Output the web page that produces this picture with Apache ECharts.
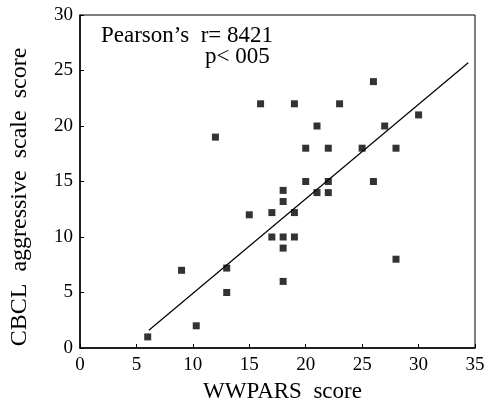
<!DOCTYPE html>
<html>
<head>
<meta charset="utf-8">
<script src="https://cdn.jsdelivr.net/npm/echarts@6/dist/echarts.min.js"></script>
<style>
html, body { margin: 0; padding: 0; background: #fff; }
#chart { width: 488px; height: 409px; }
</style>
</head>
<body>
<div id="chart"></div>
<script>
// 散点数据 (WWPARS score, CBCL aggressive scale score)
const wwpars = [6, 9, 10.3, 13, 13, 12, 15, 16, 17, 17, 18, 18, 18, 18, 18, 19, 19, 19, 20, 20, 21, 21, 22, 22, 22, 23, 25, 26, 26, 27, 28, 28, 30];
const cbcl = [1, 7, 2, 7.2, 5, 19, 12, 22, 12.2, 10, 14.2, 13.2, 10, 9, 6, 12.2, 10, 22, 18, 15, 20, 14, 18, 15, 14, 22, 18, 24, 15, 20, 18, 8, 21];
// 回归线两端
const fitX = [6.1, 34.4];
const fitY = [1.6, 25.7];
const xTicks = [0, 5, 10, 15, 20, 25, 30, 35];
const yTicks = [0, 5, 10, 15, 20, 25, 30];
const statLines = ['Pearson\u2019s  r= 8421', 'p< 005'];
const xTitle = 'WWPARS  score';
const yTitle = 'CBCL  aggressive  scale  score';

const font = 'Liberation Serif, DejaVu Serif, serif';
const points = wwpars.map((x, i) => [x, cbcl[i]]);
const fitLine = fitX.map((x, i) => [x, fitY[i]]);

const chart = echarts.init(document.getElementById('chart'));
chart.setOption({
    animation: false,
    grid: {
        left: 80,
        right: 13,
        top: 15,
        bottom: 61,
        show: true,
        borderColor: '#000',
        borderWidth: 1
    },
    xAxis: {
        type: 'value',
        min: xTicks[0],
        max: xTicks[xTicks.length - 1],
        interval: 5,
        name: xTitle,
        nameLocation: 'middle',
        nameGap: 32,
        nameTextStyle: { fontFamily: font, fontSize: 23, color: '#000', padding: [0, 0, 0, 10] },
        splitLine: { show: false },
        axisLine: { lineStyle: { color: '#000', width: 1.5 } },
        axisTick: { inside: true, length: 4, lineStyle: { color: '#000' } },
        axisLabel: { fontFamily: font, fontSize: 19, color: '#000', margin: 8 }
    },
    yAxis: {
        type: 'value',
        min: yTicks[0],
        max: yTicks[yTicks.length - 1],
        interval: 5,
        splitLine: { show: false },
        axisLine: { lineStyle: { color: '#000', width: 1.5 } },
        axisTick: { inside: true, length: 4, lineStyle: { color: '#000' } },
        axisLabel: { fontFamily: font, fontSize: 19, color: '#000', margin: 7 }
    },
    graphic: [
        {
            type: 'text',
            x: 20,
            y: 197,
            rotation: Math.PI / 2,
            style: {
                text: yTitle, fontFamily: font, fontSize: 24, fill: '#000',
                align: 'center', verticalAlign: 'middle'
            }
        },
        {
            type: 'text',
            left: 101,
            top: 24,
            style: { text: statLines[0], fontFamily: font, fontSize: 23, fill: '#000' }
        },
        {
            type: 'text',
            left: 205,
            top: 45,
            style: { text: statLines[1], fontFamily: font, fontSize: 23, fill: '#000' }
        }
    ],
    series: [
        {
            type: 'scatter',
            data: points,
            symbol: 'rect',
            symbolSize: 7,
            itemStyle: { color: '#000' }
        },
        {
            type: 'line',
            data: fitLine,
            symbol: 'none',
            lineStyle: { color: '#000', width: 1.2 }
        }
    ]
});
</script>
</body>
</html>
